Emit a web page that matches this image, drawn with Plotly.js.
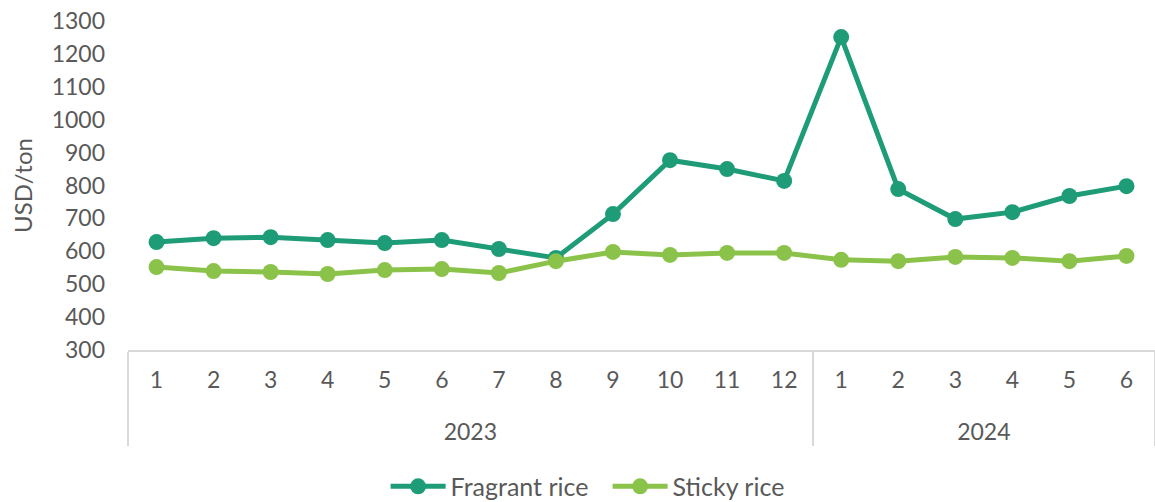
<!DOCTYPE html>
<html>
<head>
<meta charset="utf-8">
<script src="https://cdn.plot.ly/plotly-3.0.1.min.js"></script>
<style>html,body{margin:0;padding:0;background:#fff;}#chart{width:1155px;height:502px;}</style>
</head>
<body>
<div id="chart"></div>
<script>
const years = ["2023","2023","2023","2023","2023","2023","2023","2023","2023","2023","2023","2023","2024","2024","2024","2024","2024","2024"];
const months = ["1","2","3","4","5","6","7","8","9","10","11","12","1","2","3","4","5","6"];
const fragrantRice = [628,640,643,634,625,634,607,580,713,877,850,814,1251,789,698,719,768,798];
const stickyRice = [552,540,537,531,543,546,534,570,598,589,595,595,574,570,583,580,570,586];

const font = "Lato, 'Open Sans', sans-serif";
const yearLabels = years.map(y => "<br>" + y);
const traces = [
  {name:"Fragrant rice", x:[yearLabels, months], y:fragrantRice, type:"scatter", mode:"lines+markers",
   line:{color:"#1E9C78", width:5}, marker:{color:"#1E9C78", size:16}},
  {name:"Sticky rice", x:[yearLabels, months], y:stickyRice, type:"scatter", mode:"lines+markers",
   line:{color:"#8BC34A", width:5}, marker:{color:"#8BC34A", size:16}}
];
const layout = {
  width:1155, height:502,
  margin:{l:128, r:0, t:21, b:152, autoexpand:false},
  paper_bgcolor:"#fff", plot_bgcolor:"#fff",
  font:{family:font, color:"#595959", size:23},
  showlegend:true,
  legend:{orientation:"h", x:0.467, xanchor:"center", y:-0.415, yanchor:"middle", itemwidth:55,
          entrywidth:152, font:{size:25, color:"#595959"}},
  xaxis:{type:"multicategory", range:[-0.5,17.5], autorange:false, automargin:false,
         showgrid:false, zeroline:false, showline:true, linecolor:"#d9d9d9", linewidth:2,
         ticks:"outside", ticklen:19, tickcolor:"rgba(0,0,0,0)", ticklabelstandoff:8,
         showdividers:true, dividercolor:"#d9d9d9", dividerwidth:2,
         tickfont:{size:23, color:"#595959"}},
  yaxis:{range:[300,1300], dtick:100, tick0:300, automargin:false, showgrid:false, zeroline:false, showline:false, ticks:"",
         ticklabelstandoff:22,
         tickfont:{size:23, color:"#595959"}, title:{text:"USD/ton", standoff:12, font:{size:24, color:"#595959"}}}
};
Plotly.newPlot("chart", traces, layout, {displayModeBar:false, staticPlot:true});
</script>
</body>
</html>
